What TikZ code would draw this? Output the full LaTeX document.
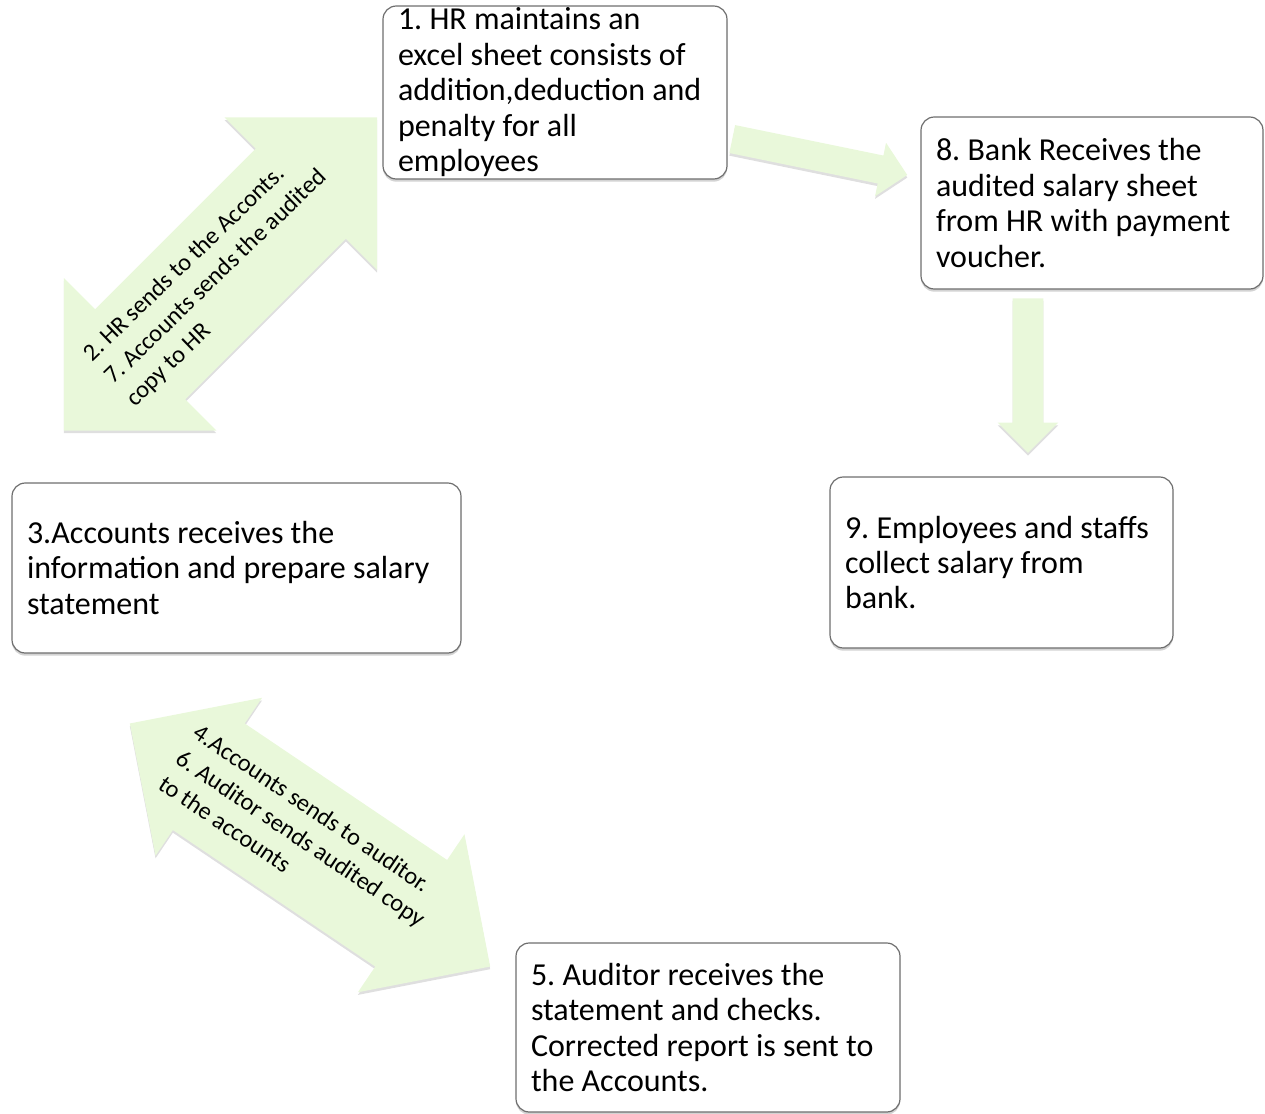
\documentclass[tikz,border=0pt]{standalone}
\usepackage{fontspec}
\setmainfont{Carlito}
\frenchspacing
\usetikzlibrary{shapes.arrows,shadows,positioning}
\definecolor{arrowgreen}{RGB}{233,248,218}
\definecolor{boxline}{RGB}{110,110,110}
\tikzset{
  stepbox/.style={draw=boxline, line width=0.9pt, fill=white, rounded corners=10pt,
    align=flush left, inner xsep=11.25pt, inner ysep=0pt,
    font=\fontsize{24}{26.6}\selectfont,
    drop shadow={shadow xshift=0pt, shadow yshift=-2pt, opacity=0.35}},
  blockarrow/.style={fill=arrowgreen, inner xsep=0pt, minimum width=0pt,
    drop shadow={shadow xshift=0pt, shadow yshift=-2pt, opacity=0.25}},
  arrowtext/.style={align=left, font=\fontsize{18.3}{23.2}\selectfont},
}

\begin{document}
\begin{tikzpicture}[x=0.75pt,y=0.75pt,yscale=-1,xscale=1]
\useasboundingbox (0,0) rectangle (1265,1114);
%Block arrows
\node[blockarrow, double arrow, rotate=45, minimum height=332pt, inner ysep=47.6pt, double arrow head extend=33pt] (hracc) at (220.5,274) {};
\node[blockarrow, double arrow, rotate=-34, minimum height=326pt, inner ysep=48pt, double arrow head extend=23.25pt] (accaud) at (310,845) {};
\node[blockarrow, single arrow, rotate=-11.6, anchor=tail, minimum height=134pt, inner ysep=10.5pt, single arrow head extend=9.75pt] (hrbank) at (732,139) {};
\node[blockarrow, single arrow, rotate=-90, anchor=tail, minimum height=116pt, inner ysep=11.25pt, single arrow head extend=11.25pt] (bankemp) at (1028,298) {};
\node[arrowtext, rotate=44] (hracctext) at (216,277) {2. HR sends to the Acconts.\\7. Accounts sends the audited\\copy to HR};
\node[arrowtext, rotate=-34] (accaudtext) at (301,838) {4.Accounts sends to auditor.\\6. Auditor sends audited copy\\to the accounts};
%Boxes
\node[stepbox, text width=235.5pt, minimum height=129.75pt] (hr) at (555,92.5) {1. HR maintains an\\excel sheet consists of\\addition,deduction and\\penalty for all\\employees};
\node[stepbox, text width=234pt, minimum height=129pt] (bank) at (1092,203) {8. Bank Receives the\\audited salary sheet\\from HR with payment\\voucher.};
\node[stepbox, text width=314.25pt, minimum height=127.5pt] (acc) at (236.5,568) {3.Accounts receives the\\information and prepare salary\\statement};
\node[stepbox, text width=234.75pt, minimum height=128.25pt] (emp) at (1001.5,562.5) {9. Employees and staffs\\collect salary from\\bank.};
\node[stepbox, text width=265.5pt, minimum height=126.75pt] (aud) at (708,1027.5) {5. Auditor receives the\\statement and checks.\\Corrected report is sent to\\the Accounts.};
\end{tikzpicture}
\end{document}
